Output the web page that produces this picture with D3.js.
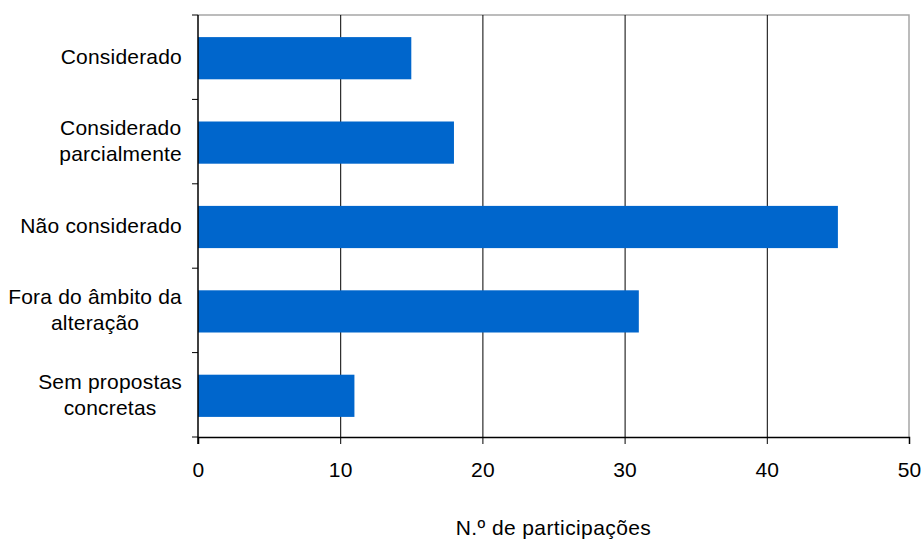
<!DOCTYPE html>
<html>
<head>
<meta charset="utf-8">
<script src="https://cdn.jsdelivr.net/npm/d3@7"></script>
<style>
  body { margin: 0; background: #fff; }
  text { font-family: "Liberation Sans", Arial, sans-serif; fill: #000; letter-spacing: 0.2px; }
</style>
</head>
<body>
<script>
// Data
const categories = [
    ['Considerado'],
    ['Considerado', 'parcialmente'],
    ['Não considerado'],
    ['Fora do âmbito da', 'alteração'],
    ['Sem propostas', 'concretas']
];
const values = [15, 18, 45, 31, 11];
const xTicks = [0, 10, 20, 30, 40, 50];
const xTitle = 'N.º de participações';

// SVG parameters
const svgWidth = 921;
const svgHeight = 540;
const plotLeft = 198;
const plotRight = 909;
const plotTop = 15;
const plotBottom = 437;
const fontSize = 21;

const xScale = d3.scaleLinear()
.domain([0, 50])
.range([plotLeft, plotRight]);

const yScale = d3.scaleBand()
.domain(d3.range(categories.length))
.range([plotTop, plotBottom])
.paddingInner(0.5)
.paddingOuter(0.25);

const svg = d3.select('body')
.append('svg')
.attr('width', svgWidth)
.attr('height', svgHeight);

// plot frame (top / right in grey)
svg.append('path')
.attr('d', `M${plotLeft},${plotTop}H${plotRight}V${plotBottom}`)
.attr('fill', 'none')
.attr('stroke', '#a6a6a6')
.attr('stroke-width', 1.5);

// vertical grid lines
svg.selectAll('line.grid')
.data(xTicks.slice(1, -1))
.enter()
.append('line')
.attr('class', 'grid')
.attr('x1', d => xScale(d) + 0.5)
.attr('x2', d => xScale(d) + 0.5)
.attr('y1', plotTop)
.attr('y2', plotBottom)
.attr('stroke', '#000')
.attr('stroke-width', 1);

// bars
svg.selectAll('rect.bar')
.data(values)
.enter()
.append('rect')
.attr('class', 'bar')
.attr('x', xScale(0))
.attr('y', (d, i) => yScale(i) + 1)
.attr('width', d => xScale(d) - xScale(0))
.attr('height', yScale.bandwidth())
.attr('fill', '#0066cc');

// x axis
const xAxis = d3.axisBottom(xScale)
.tickValues(xTicks)
.tickSize(7)
.tickPadding(18)
.tickFormat(d3.format('d'));

const gx = svg.append('g')
.attr('transform', `translate(0, ${plotBottom})`)
.call(xAxis);
gx.select('.domain').attr('stroke', '#000').attr('stroke-width', 1.5);
gx.selectAll('text').attr('font-size', fontSize).attr('font-family', null);

// y axis: ticks at band edges
const step = (plotBottom - plotTop) / categories.length;
const yEdges = d3.range(categories.length + 1).map(i => plotTop + i * step);
svg.selectAll('line.ytick')
.data(yEdges)
.enter()
.append('line')
.attr('class', 'ytick')
.attr('x1', plotLeft - 6)
.attr('x2', plotLeft)
.attr('y1', d => d)
.attr('y2', d => d)
.attr('stroke', '#000');

svg.append('line')
.attr('x1', plotLeft)
.attr('x2', plotLeft)
.attr('y1', plotTop)
.attr('y2', plotBottom + 7)
.attr('stroke', '#000')
.attr('stroke-width', 1.5);

// category labels: block right-aligned, lines centred in block
const lineH = 26;
const labelRight = 182;
categories.forEach((lines, i) => {
    const cy = plotTop + (i + 0.5) * step;
    const g = svg.append('g');
    const texts = lines.map((t, j) => g.append('text')
        .attr('font-size', fontSize)
        .attr('text-anchor', 'middle')
        .attr('y', cy + (j - (lines.length - 1) / 2) * lineH)
        .attr('dy', '0.32em')
        .text(t));
    const w = d3.max(texts, t => t.node().getComputedTextLength());
    texts.forEach(t => t.attr('x', labelRight - w / 2));
});

// axis title
svg.append('text')
.attr('x', (plotLeft + plotRight) / 2)
.attr('y', 535)
.attr('text-anchor', 'middle')
.attr('font-size', fontSize)
.style('letter-spacing', '0.4px')
.text(xTitle);
</script>
</body>
</html>
